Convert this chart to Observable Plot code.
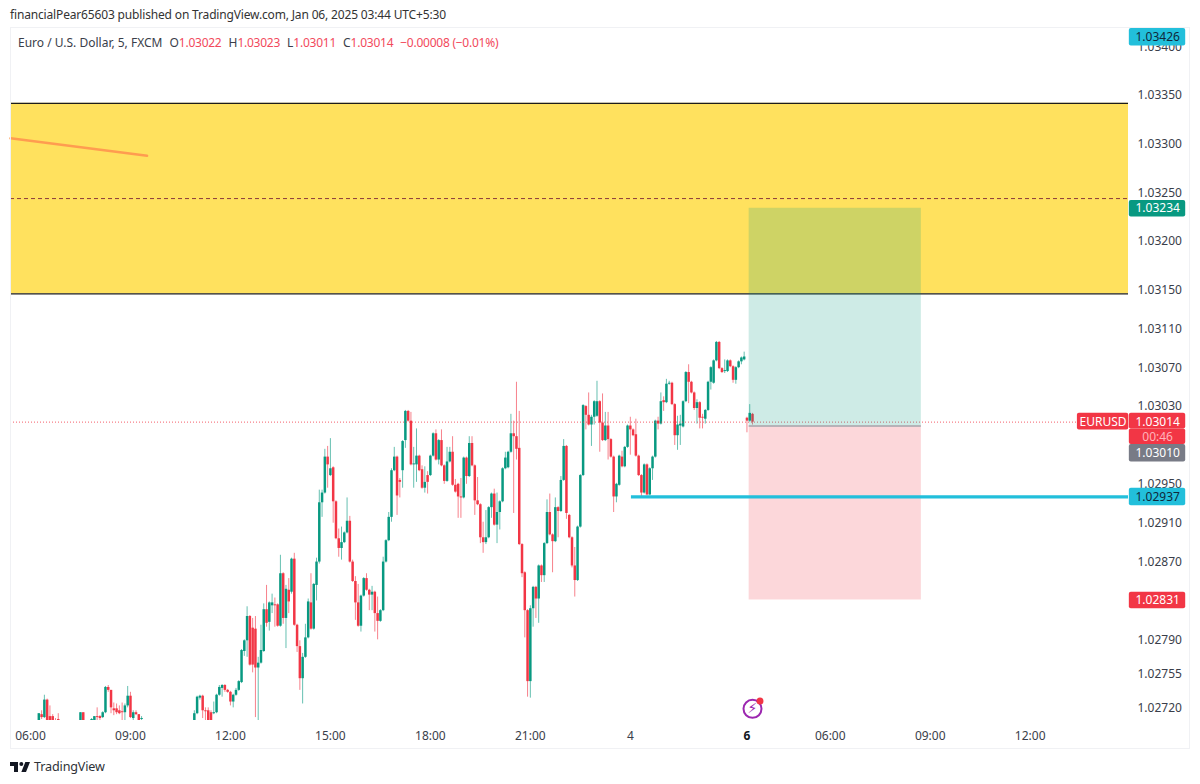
<!DOCTYPE html>
<html>
<head>
<meta charset="utf-8">
<script src="https://cdn.jsdelivr.net/npm/d3@7"></script>
<script src="https://cdn.jsdelivr.net/npm/@observablehq/plot@0.6"></script>
<style>
html,body{margin:0;padding:0;background:#fff;width:1200px;height:784px;overflow:hidden;font-family:"Noto Sans",sans-serif;}
#head{height:27px;box-sizing:border-box;padding:7px 0 0 10px;font-size:12px;line-height:16px;color:#333;letter-spacing:-.16px;white-space:nowrap;}
#wrap{position:relative;height:722px;width:1200px;}
#wrap svg{display:block;overflow:visible;}
#border{position:absolute;left:10px;top:0;width:1180px;height:722px;box-sizing:border-box;border:1px solid #f0f1f4;pointer-events:none;}
#legend{position:absolute;left:18px;top:8px;font-size:12px;line-height:16px;color:#3a3e4a;white-space:nowrap;}
#legend b{font-weight:400;color:#f2495c;letter-spacing:-.25px;}
#legend span{margin-right:7px;}
#foot{display:flex;align-items:center;gap:4px;padding:9px 0 0 10px;font-size:12.6px;letter-spacing:-.15px;color:#2e3238;}
</style>
</head>
<body>
<div id="head">financialPear65603 published on TradingView.com, Jan 06, 2025 03:44 UTC+5:30</div>
<div id="wrap">
  <div id="border"></div>
  <div id="legend"><span>Euro / U.S. Dollar, 5, FXCM</span><span>O<b>1.03022</b></span><span>H<b>1.03023</b></span><span>L<b>1.03011</b></span><span>C<b>1.03014</b></span><b>−0.00008 (−0.01%)</b></div>
</div>
<div id="foot"><svg width="20" height="10" viewBox="2 6 30 15"><path fill="#131722" d="M14 6H2v6h6v9h6V6Zm12 15h-7l6-15h7l-6 15Zm-7-9a3 3 0 1 0 0-6 3 3 0 0 0 0 6Z"/></svg>TradingView</div>
<script>
// Candle values: points above 1.02700 (1 point = 0.00001). _ = bar lies below the visible pane.
const _ = null;
const firstBar = 3;
const open = [5,13,10,28,11,11,7,8,_,_,_,_,_,_,_,5,15,_,_,7,
5,11,11,10,15,41,38,19,19,17,16,15,22,32,9,15,13,8,
_,_,_,_,_,_,_,_,_,_,_,_,_,_,_,_,_,_,
5,
14,30,32,17,17,15,14,15,33,40,
43,38,36,26,33,38,46,78,89,114,
102,101,61,66,78,121,108,125,126,126,
104,158,112,141,139,173,105,83,50,72,
92,128,101,146,170,231,241,278,259,267,
232,194,184,190,200,212,170,150,128,104,
135,153,141,136,139,117,109,120,170,192,
216,264,278,254,264,295,325,315,270,270,
279,265,246,259,259,279,302,275,295,269,
253,273,283,249,250,237,236,277,258,292,
269,233,229,195,190,195,226,240,208,221,
232,266,267,283,302,299,287,188,159,120,
47,122,144,132,166,156,189,221,198,191,
226,222,254,289,218,195,166,151,206,259,
330,321,311,319,320,335,313,295,310,296,
278,237,249,278,268,288,310,306,301,279,
259,241,270,239,266,278,315,312,336,334,
353,354,332,300,310,309,335,365,355,344,
328,334,319,317,326,355,354,377,396,369,
366,366,377,371,357,370,376,378,318,315,
322];
const close = [14,10,28,5,5,5,5,7,_,_,_,_,_,_,_,15,5,_,_,8,
11,10,9,15,41,38,20,17,15,14,15,22,32,10,15,13,5,9,
_,_,_,_,_,_,_,_,_,_,_,_,_,_,_,_,_,_,
14,
31,32,17,16,5,5,15,33,41,43,
38,36,26,33,38,47,79,89,114,64,
64,61,66,79,121,107,128,128,125,104,
158,112,142,129,173,105,83,50,72,92,
129,101,147,170,231,241,278,270,266,232,
194,184,190,200,212,170,150,128,104,135,
153,141,136,139,117,109,120,170,192,216,
264,278,238,252,294,325,315,270,271,279,
264,246,252,252,279,302,275,295,269,253,
273,283,249,242,237,236,277,258,292,269,
233,229,195,190,195,226,240,208,221,232,
266,277,283,302,299,286,188,158,120,47,
122,144,132,166,156,189,221,198,191,226,
222,254,289,220,195,166,151,206,259,331,
321,311,319,335,335,313,295,310,296,278,
237,250,279,268,288,310,306,300,279,259,
241,270,239,266,278,315,312,335,334,353,
354,332,300,311,312,335,365,355,344,328,
334,318,318,326,355,370,377,396,369,365,
367,377,371,357,370,376,380,381,315,323,
314];
const high = [14,17,33,29,22,13,9,14,_,_,_,_,_,_,_,15,15,_,_,9,
11,20,12,16,42,43,38,25,24,22,25,24,42,36,17,17,13,11,
_,_,_,_,_,_,_,_,_,_,_,_,_,_,_,_,_,_,
17,
32,33,33,20,20,17,26,34,43,44,
44,39,37,34,40,48,80,90,124,115,
112,114,72,105,127,146,129,137,133,127,
177,159,146,153,174,179,106,89,76,106,
132,158,148,174,244,244,286,289,297,268,
233,204,206,201,236,217,172,155,147,136,
154,158,142,145,140,134,121,175,193,221,
266,288,279,256,295,326,326,324,288,307,
280,269,268,263,280,303,306,296,306,270,
288,288,299,255,251,256,278,278,299,299,
270,257,230,211,223,227,241,245,241,233,
267,283,284,322,315,355,325,189,160,121,
125,145,145,167,167,190,234,240,199,236,
227,258,296,290,219,196,185,207,260,332,
331,344,321,336,356,336,343,324,324,297,
279,251,280,284,289,311,319,307,317,280,
260,271,271,267,279,316,319,344,340,358,
356,355,333,320,321,336,366,373,356,345,
337,335,322,327,356,371,378,397,397,370,
378,378,378,372,371,377,381,386,319,332,
323];
const low = [5,8,9,5,5,5,5,5,_,_,_,_,_,_,_,5,5,_,_,5,
5,5,5,9,14,36,14,12,13,13,5,5,20,9,5,12,5,5,
_,_,_,_,_,_,_,_,_,_,_,_,_,_,_,_,_,_,
5,
13,28,9,7,5,5,13,14,32,31,
36,35,22,20,32,37,45,73,72,63,
56,10,7,65,77,103,99,117,103,103,
103,106,81,117,137,104,77,38,24,71,
91,100,100,130,168,216,240,246,258,210,
193,175,172,189,199,169,149,110,103,98,
134,140,120,120,98,90,108,119,169,191,
211,263,218,236,246,287,314,269,246,252,
263,245,241,240,258,278,274,270,268,250,
252,272,248,241,215,215,235,250,257,268,
218,228,189,179,188,194,215,207,189,203,
231,265,266,282,220,275,187,154,92,31,
30,103,112,107,149,149,188,197,159,190,
195,221,253,214,194,164,134,150,205,258,
306,310,289,311,319,283,294,294,275,277,
221,231,248,267,267,287,280,299,278,258,
237,240,238,238,254,277,306,311,325,333,
352,331,290,285,290,308,334,333,343,326,
312,307,307,312,325,347,353,376,368,364,
364,365,370,354,353,369,373,377,303,314,
311];

// Time-axis ticks (5-minute bar number, label)
const timeTicks = [0,36,72,108,144,180,216,288,324,360];
const timeLabels = ["06:00","09:00","12:00","15:00","18:00","21:00","4","06:00","09:00","12:00"];
const dayTick = 258, dayLabel = "6";

// Price-axis ticks
const priceTicks = [1.034,1.0335,1.033,1.0325,1.032,1.0315,1.0311,1.0307,1.0303,1.0295,1.0291,1.0287,1.0279,1.02755,1.0272];

// Drawings (in price and bar number)
const paneStart = -7.2, paneEnd = 395.4;
const zoneTop = 1.03342, zoneBottom = 1.03146, zoneMid = 1.03244;
const lastPrice = 1.03014;
const entryPrice = 1.0301, targetPrice = 1.03234, stopPrice = 1.02831;
const boxStart = 258.8, boxEnd = 320.8;
const cyanPrice = 1.02937, cyanStart = 216.4;
const trendBars = [paneStart, 42], trendPrices = [1.03306, 1.03288];

// Price-axis badges
const badgeLabels = ["1.03426","1.03234","1.03014","00:46","1.03010","1.02937","1.02831"];
const badgeFills = ["#22bfdb","#089981","#f23645","#f23645","#787b86","#22bfdb","#f23645"];
const badgeInk = ["#10283a","#ffffff","#ffffff","#ffb3ba","#ffffff","#10283a","#ffffff"];
const badgeText = [1.03410,1.03234,1.03014,1.02999,1.02982,1.02937,1.02831];
const badgeTop = [1.03419,1.03242,1.03023,1.03007,1.02991,1.02946,1.02839];
const badgeBottom = [1.03401,1.03225,1.03007,1.02991,1.02973,1.02928,1.02822];
const axisBadgeStart = 395.7, axisBadgeEnd = 416, axisBadgeMid = 405.9;
const symbolLabel = "EURUSD", symbolStart = 377, symbolEnd = 395.5;

const UP = "#089981", DOWN = "#f23645";
const bars = open.map((o, k) => ({i: k + firstBar, o, c: close[k], h: high[k], l: low[k]}))
  .filter(b => b.o !== null)
  .map(b => ({i: b.i, open: 1.027 + b.o / 1e5, close: 1.027 + b.c / 1e5, high: 1.027 + b.h / 1e5, low: 1.027 + b.l / 1e5, color: b.c >= b.o ? UP : DOWN}));

const badges = badgeLabels.map((t, k) => ({t, fill: badgeFills[k], ink: badgeInk[k], y: badgeText[k], y1: badgeBottom[k], y2: badgeTop[k]}));
const fontFamily = '"Noto Sans", sans-serif';

const chart = Plot.plot({
  width: 1200, height: 722,
  marginLeft: 10, marginRight: 72, marginTop: 0, marginBottom: 29,
  style: {background: "transparent", fontFamily, fontSize: "12px", color: "#3a3e4a"},
  x: {domain: [paneStart, paneEnd]},
  y: {domain: [1.02707, 1.0342]},
  marks: [
    Plot.rect([0], {x1: () => paneStart, x2: () => paneEnd, y1: () => zoneBottom, y2: () => zoneTop, fill: "#ffe15e"}),
    Plot.ruleX(bars, {x: "i", y1: "low", y2: "high", stroke: "color", strokeWidth: 1, strokeOpacity: 0.62, clip: true}),
    Plot.ruleX(bars, {x: "i", y1: "open", y2: "close", stroke: "color", strokeWidth: 2.5, clip: true}),
    Plot.line(trendBars.map((x, k) => ({x, y: trendPrices[k]})), {x: "x", y: "y", stroke: "#ff9c50", strokeWidth: 2.4}),
    Plot.ruleY([zoneTop, zoneBottom], {stroke: "#1c1c1c", strokeWidth: 1.3}),
    Plot.ruleY([zoneMid], {stroke: "#8c3b3b", strokeWidth: 1, strokeDasharray: "4 3"}),
    Plot.ruleY([lastPrice], {stroke: DOWN, strokeWidth: 1, strokeDasharray: "1 2", strokeOpacity: 0.8}),
    Plot.rect([0], {x1: () => boxStart, x2: () => boxEnd, y1: () => entryPrice, y2: () => targetPrice, fill: UP, fillOpacity: 0.2}),
    Plot.rect([0], {x1: () => boxStart, x2: () => boxEnd, y1: () => stopPrice, y2: () => entryPrice, fill: DOWN, fillOpacity: 0.2}),
    Plot.ruleY([entryPrice], {x1: () => boxStart, x2: () => boxEnd, stroke: "#a3a5ab", strokeWidth: 1.5}),
    Plot.ruleY([cyanPrice], {x1: () => cyanStart, x2: () => paneEnd, stroke: "#22bfdb", strokeWidth: 3.2}),
    Plot.axisY({anchor: "right", ticks: priceTicks, tickSize: 0, tickPadding: 9, tickFormat: d3.format(".5f"), label: null, fontSize: 12, textAnchor: "start", fill: "#3a3e4a"}),
    Plot.axisX({ticks: timeTicks, tickFormat: d => timeLabels[timeTicks.indexOf(d)], tickSize: 0, tickPadding: 11, label: null, fontSize: 12, fill: "#3a3e4a"}),
    Plot.axisX({ticks: [dayTick], tickFormat: () => dayLabel, tickSize: 0, tickPadding: 11, label: null, fontSize: 12, fontWeight: 700, fill: "#131722"}),
    Plot.rect(badges, {x1: () => axisBadgeStart, x2: () => axisBadgeEnd, y1: "y1", y2: "y2", fill: "fill", r: 2}),
    Plot.rect([0], {x1: () => symbolStart, x2: () => symbolEnd, y1: () => 1.03006, y2: () => 1.03023, fill: DOWN, r: 2}),
    Plot.text(badges, {x: () => axisBadgeMid, y: "y", text: "t", fill: "ink", fontSize: 12, textAnchor: "middle"}),
    Plot.text([symbolLabel], {x: () => (symbolStart + symbolEnd) / 2, y: () => lastPrice, text: d => d, fill: "#fff", fontSize: 12, textAnchor: "middle"}),
    Plot.dot([0], {x: () => 260, y: () => 1.02719, r: 9, stroke: "#9c27b0", strokeWidth: 2, fill: "#fff"}),
    Plot.text(["\u26A1"], {x: () => 260, y: () => 1.02719, text: d => d, fill: "#9c27b0", fontSize: 14, fontWeight: 700, fontFamily: "DejaVu Sans"}),
    Plot.dot([0], {x: () => 262.7, y: () => 1.02727, r: 3.5, fill: "#f23645"})
  ]
});
document.getElementById("wrap").prepend(chart);
</script>
</body>
</html>
